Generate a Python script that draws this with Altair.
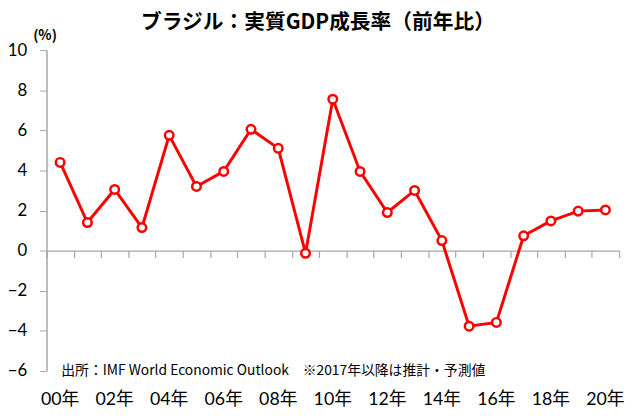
import altair as alt
import pandas as pd

years = ["00", "01", "02", "03", "04", "05", "06", "07", "08", "09", "10",
         "11", "12", "13", "14", "15", "16", "17", "18", "19", "20"]
growth = [4.4, 1.4, 3.05, 1.15, 5.75, 3.2, 3.95, 6.05, 5.1, -0.13, 7.55,
          3.95, 1.9, 3.0, 0.5, -3.77, -3.58, 0.74, 1.48, 1.97, 2.03]
y_ticks = [-6, -4, -2, 0, 2, 4, 6, 8, 10]

title_text = "ブラジル：実質GDP成長率（前年比）"
unit_text = "(%)"
source_text = "出所：IMF World Economic Outlook　※2017年以降は推計・予測値"

df = pd.DataFrame({"year": years, "growth": growth})

W, H = 580, 325
FONT = "Lato, 'Noto Sans CJK JP', sans-serif"
JP = "'Noto Sans CJK JP', sans-serif"
RED = "#ff0000"
GRAY = "#a6a6a6"

yscale = alt.Scale(domain=[-6, 10], nice=False, zero=False)

x_labels = alt.X(
    "year:N", sort=years, title=None,
    scale=alt.Scale(paddingInner=0, paddingOuter=0),
    axis=alt.Axis(orient="bottom", domain=False, ticks=False, labelAngle=0,
                  labelPadding=20, labelFontSize=18, labelFont=FONT,
                  labelColor="black",
                  labelExpr="toNumber(datum.value) % 2 == 0 ? datum.value + '年' : ''"),
)
x_zero = alt.X(
    "year:N", sort=years, title=None,
    scale=alt.Scale(paddingInner=0, paddingOuter=0),
    axis=alt.Axis(orient="bottom", labels=False, domain=True, ticks=True,
                  tickBand="extent", tickSize=7, tickColor=GRAY,
                  domainColor=GRAY, domainWidth=1.5, tickWidth=1.2,
                  offset=-H * 6 / 16),
)
y_enc = alt.Y(
    "growth:Q", scale=yscale, title=unit_text,
    axis=alt.Axis(values=y_ticks, grid=False, labelFontSize=17, labelFont=FONT,
                  labelColor="black", labelPadding=13, tickSize=7,
                  tickColor=GRAY, domainColor=GRAY, domainWidth=1.5,
                  titleAngle=0, titleX=-2, titleY=-15, titleAlign="center",
                  titleBaseline="middle", titleFontSize=14, titleFont=JP,
                  titleFontWeight="bold", titleColor="black"),
)

line = alt.Chart(df).mark_line(color=RED, strokeWidth=3).encode(x=x_labels, y=y_enc)
pts = alt.Chart(df).mark_point(
    shape="circle", filled=True, fill="white", stroke=RED, strokeWidth=2.5,
    size=75, opacity=1
).encode(x=x_zero, y=alt.Y("growth:Q", scale=yscale))

note = alt.Chart(pd.DataFrame({"t": [source_text]})).mark_text(
    align="left", baseline="middle", fontSize=14, font=JP, color="black"
).encode(x=alt.value(15), y=alt.value(325), text="t:N")

chart = alt.layer(line, pts, note).resolve_axis(x="independent").properties(
    width=W, height=H,
    autosize=alt.AutoSizeParams(type="none"),
    padding={"left": 39, "top": 40, "right": 7, "bottom": 43},
    title=alt.TitleParams(title_text, anchor="middle", frame="group", dx=-15,
                          offset=-5, fontSize=21, font=JP, fontWeight="bold",
                          color="black"),
).configure_view(stroke=None)

chart.save("out.html", embed_options={"renderer": "svg", "actions": False})
